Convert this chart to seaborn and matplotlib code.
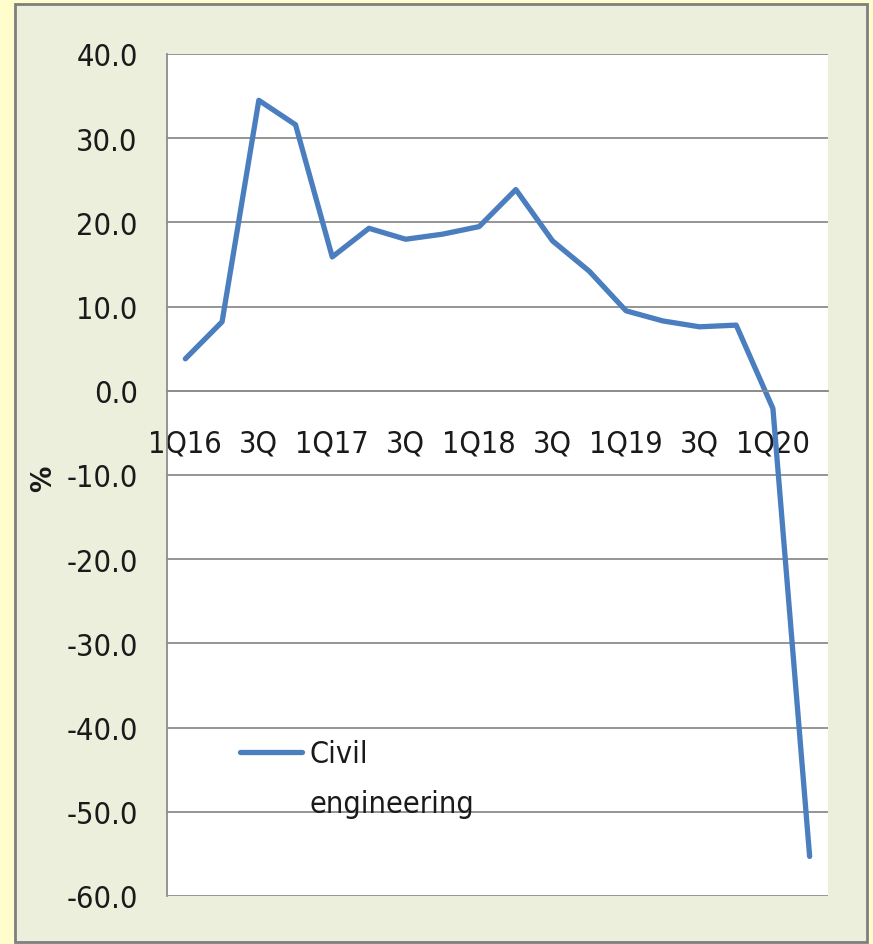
import matplotlib
matplotlib.use("Agg")
import matplotlib.pyplot as plt
import seaborn as sns
import numpy as np
import pandas as pd
from matplotlib.patches import Rectangle
from matplotlib.ticker import FixedLocator, FixedFormatter, NullFormatter

quarters = ["1Q16", "2Q16", "3Q16", "4Q16", "1Q17", "2Q17", "3Q17", "4Q17",
            "1Q18", "2Q18", "3Q18", "4Q18", "1Q19", "2Q19", "3Q19", "4Q19",
            "1Q20", "2Q20"]
tick_labels = ["1Q16", "", "3Q", "", "1Q17", "", "3Q", "", "1Q18", "", "3Q", "",
               "1Q19", "", "3Q", "", "1Q20", ""]
civil_engineering = [3.8, 8.2, 34.5, 31.6, 15.9, 19.3, 18.0, 18.6, 19.5, 23.9,
                     17.8, 14.2, 9.5, 8.3, 7.6, 7.8, -2.1, -55.3]
y_ticks = [40, 30, 20, 10, 0, -10, -20, -30, -40, -50, -60]

sns.set_style("white")
plt.rcParams["font.family"] = ["DejaVu Sans"]
plt.rcParams["font.stretch"] = "condensed"
fs = 22
txt_color = "#1A1A1A"

df = pd.DataFrame({"pos": np.arange(len(quarters)), "quarter": quarters,
                   "value": civil_engineering})

fig = plt.figure(figsize=(8.73, 9.45), dpi=100)
fig.patch.set_facecolor("#FFFDCC")
fig.patches.append(Rectangle((15 / 873, 2 / 945), 852 / 873, 938 / 945,
                             transform=fig.transFigure, facecolor="#EBEFDC",
                             edgecolor="#7F7F7F", linewidth=2.0, zorder=0))

ax = fig.add_axes([167 / 873, 48 / 945, 661 / 873, 842 / 945])
ax.set_facecolor("white")
ax.set_zorder(2)

sns.lineplot(data=df, x="pos", y="value", ax=ax, color="#4A7EBF",
             linewidth=3.8, legend=False)

ax.set_xlim(-0.5, len(quarters) - 0.5)
ax.set_ylim(-60, 40)

for s in ["top", "right"]:
    ax.spines[s].set_visible(False)
ax.spines["left"].set_color("#8C8C8C")
ax.spines["left"].set_linewidth(1.3)
ax.spines["bottom"].set_position(("data", 0))
ax.spines["bottom"].set_color("#8C8C8C")
ax.spines["bottom"].set_linewidth(1.3)

ax.set_yticks(y_ticks)
ax.set_yticklabels([f"{v:.1f}" for v in y_ticks], fontsize=fs)
ax.yaxis.grid(True, color="#8C8C8C", linewidth=1.3)
ax.tick_params(axis="y", direction="out", length=7, width=1.3, color="#8C8C8C",
               pad=14, labelcolor=txt_color)

ax.xaxis.set_major_locator(FixedLocator(df["pos"].tolist()))
ax.xaxis.set_major_formatter(FixedFormatter(tick_labels))
ax.xaxis.set_minor_locator(FixedLocator(np.arange(len(quarters) + 1) - 0.5))
ax.xaxis.set_minor_formatter(NullFormatter())
ax.tick_params(axis="x", which="major", length=0, pad=27, labelsize=fs,
               labelcolor=txt_color)
ax.tick_params(axis="x", which="minor", direction="out", length=9, width=1.3,
               color="#8C8C8C")

ax.set_xlabel("")
ax.set_ylabel("%", fontsize=fs - 1, fontweight="bold", color=txt_color)
ax.yaxis.set_label_coords(-0.166, 0.497)

leg = ax.legend(handles=ax.lines[:1], labels=["Civil"], loc="center left",
                bbox_to_anchor=(0.110, 0.169), frameon=False, fontsize=fs,
                handlelength=2.05, handletextpad=0.25, borderpad=0,
                borderaxespad=0)
for t in leg.get_texts():
    t.set_color(txt_color)
ax.text(0.216, 0.11, "engineering", transform=ax.transAxes, fontsize=fs,
        ha="left", va="center", color=txt_color)

fig.savefig("out.png", dpi=100, facecolor=fig.get_facecolor())
